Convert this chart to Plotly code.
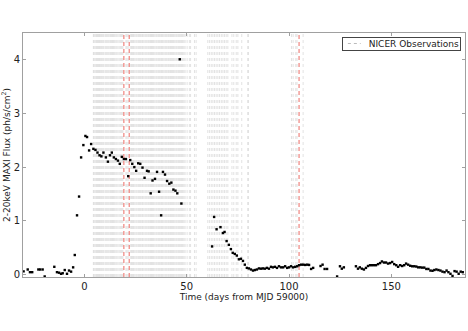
import plotly.graph_objects as go

# MAXI 2-20 keV light curve (days from MJD 59000, ph/s/cm^2)
maxi_day = [-29.7, -27.7, -26.6, -25.5, -22.5, -21.6, -20.4, -19.4, -14.7, -13.4,
            -12.4, -11.4, -10.6, -9.6, -8.5, -7.5, -6.5, -5.5, -4.7, -3.6,
            -2.6, -1.6, -0.5, 0.5, 1.3, 2.3, 3.3, 4.4, 5.4, 6.4,
            7.4, 8.3, 9.3, 10.5, 11.5, 12.5, 13.4, 14.4, 15.4, 16.4,
            17.3, 18.3, 19.3, 20.3, 21.4, 22.4, 23.4, 24.4, 25.3, 26.3,
            27.3, 28.4, 29.4, 30.6, 31.4, 32.4, 33.3, 34.5, 35.5, 36.5,
            37.5, 38.4, 39.4, 40.4, 41.5, 42.5, 43.5, 44.5, 45.4, 46.6,
            47.4,
            62.4, 63.4, 64.6, 66.5, 67.7, 68.5, 69.5, 70.6, 71.6, 72.5,
            73.5, 74.5, 75.5, 76.5, 77.5, 78.4, 79.4, 80.4, 81.4, 82.4,
            83.3, 84.3, 85.3, 86.3, 87.2, 88.2, 89.2, 90.2, 91.2, 92.1,
            93.1, 94.1, 95.1, 96.1, 97.1, 98.1, 99.1, 100.0, 101.0, 102.0,
            103.0, 104.0, 104.9, 105.9, 106.9, 107.9, 108.9, 109.8, 110.8, 111.8,
            115.4, 116.4, 117.4, 118.6, 123.5, 124.9, 125.8, 126.8,
            132.7, 133.7, 134.6, 135.6, 136.6, 137.6, 138.6, 139.6, 140.5, 141.5,
            142.5, 143.5, 144.5, 145.4, 146.4, 147.4, 148.4, 149.4, 150.4, 151.4,
            152.4, 153.3, 154.3, 155.3, 156.3, 157.2, 158.2, 159.2, 160.2, 161.2,
            162.2, 163.1, 164.1, 165.1, 166.1, 167.1, 168.1, 169.1, 170.1, 171.0,
            172.0, 173.0, 174.0, 175.0, 176.0, 177.0, 177.9, 178.9, 179.9, 180.9,
            181.9, 182.9, 183.9, 184.9]
maxi_flux = [0.055, 0.09, 0.04, 0.04, 0.09, 0.09, 0.09, -0.04, 0.14, 0.04,
             0.03, 0.01, 0.02, 0.08, 0.01, 0.07, 0.05, 0.13, 0.36, 1.10,
             1.45, 2.18, 2.41, 2.58, 2.56, 2.31, 2.43, 2.34, 2.32, 2.27,
             2.22, 2.20, 2.27, 2.18, 2.10, 2.22, 2.27, 2.18, 2.15, 2.12,
             2.06, 2.19, 2.15, 2.15, 1.83, 2.13, 2.06, 2.00, 1.93, 2.07,
             2.06, 1.99, 1.80, 1.93, 1.92, 1.51, 1.75, 1.78, 1.91, 1.54,
             1.10, 1.91, 1.86, 1.74, 1.69, 1.71, 1.58, 1.56, 1.51, 4.01,
             1.32,
             0.52, 1.07, 0.84, 0.88, 0.77, 0.79, 0.62, 0.55, 0.47, 0.40,
             0.38, 0.35, 0.28, 0.29, 0.25, 0.18, 0.12, 0.11, 0.09, 0.07,
             0.08, 0.09, 0.11, 0.105, 0.11, 0.105, 0.12, 0.105, 0.14, 0.13,
             0.14, 0.12, 0.15, 0.13, 0.13, 0.15, 0.12, 0.13, 0.15, 0.13,
             0.14, 0.15, 0.17, 0.18, 0.18, 0.175, 0.18, 0.175, 0.10, 0.12,
             0.155, 0.18, 0.10, 0.10, -0.04, 0.15, 0.105, 0.13,
             0.15, 0.105, 0.13, 0.105, 0.09, 0.12, 0.155, 0.17, 0.17, 0.17,
             0.17, 0.19, 0.21, 0.24, 0.22, 0.22, 0.20, 0.21, 0.23, 0.19,
             0.17, 0.14, 0.17, 0.155, 0.17, 0.20, 0.18, 0.16, 0.15, 0.15,
             0.145, 0.13, 0.13, 0.125, 0.125, 0.10, 0.10, 0.07, 0.065, 0.08,
             0.09, 0.08, 0.07, 0.05, 0.04, 0.07, 0.04, 0.01, -0.03, 0.06,
             0.05, 0.01, 0.05, 0.04]

# NICER observation epochs (gray dotted) and highlighted epochs (red dashed)
nicer_days = [4.4, 4.75, 5.3, 5.9, 6.4, 6.9, 7.4, 7.8, 8.3, 8.8, 9.4, 10.1, 10.6, 11.1,
              11.6, 12.1, 12.7, 13.2, 13.7, 14.2, 14.8, 15.4, 15.9, 16.5, 17.3, 17.8,
              18.3, 18.8, 20.3, 20.8, 21.4, 22.4, 23.0, 23.5, 24.0, 24.6, 25.2, 25.7,
              26.3, 26.8, 27.3, 27.8, 28.4, 29.0, 29.6, 30.1, 30.6, 31.2, 31.7, 32.3,
              32.8, 33.3, 33.8, 34.4, 35.0, 35.5, 36.1, 36.6, 37.1, 37.7, 38.2, 38.8,
              39.4, 39.9, 40.4, 41.0, 41.5, 42.1, 42.6, 43.1, 43.6, 44.2, 44.8, 45.3,
              45.9, 46.4, 46.9, 47.5, 48.0, 48.6, 49.2, 50.2, 51.3, 51.9, 53.8, 54.6,
              60.3, 61.1, 62.0, 62.8, 63.6, 64.4, 65.2, 66.0, 66.9, 67.7, 68.5, 69.3,
              70.1, 72.1, 73.0, 74.2, 75.0, 76.9, 79.9, 80.1,
              101.2, 102.0, 103.3, 103.9, 106.9]
red_days = [19.3, 21.9, 104.9]

y_lo, y_hi = -0.05, 4.5


def vlines(days):
    xs, ys = [], []
    for d in days:
        xs += [d, d, None]
        ys += [y_lo, y_hi, None]
    return xs, ys


fig = go.Figure()

nx, ny = vlines(nicer_days)
fig.add_trace(go.Scatter(x=nx, y=ny, mode='lines', name='NICER Observations',
                         showlegend=False,
                         line=dict(color='#cfcfcf', width=0.6, dash='dot')))

rx, ry = vlines(red_days)
fig.add_trace(go.Scatter(x=rx, y=ry, mode='lines', showlegend=False,
                         line=dict(color='#ec6a64', width=1, dash='4px,3px')))

fig.add_trace(go.Scatter(x=maxi_day, y=maxi_flux, mode='markers', showlegend=False,
                         marker=dict(color='black', size=2.4, symbol='square')))

# compact matplotlib-like legend box
fig.add_annotation(xref='paper', yref='paper', x=0.991, y=0.984,
                   xanchor='right', yanchor='top', showarrow=False,
                   text='NICER Observations', align='right', width=115,
                   font=dict(size=9, color='#222222'),
                   bgcolor='rgba(255,255,255,0)', bordercolor='#444444',
                   borderwidth=1, borderpad=1)
fig.add_shape(type='line', xref='paper', yref='paper', x0=0.735, x1=0.764,
              y0=0.957, y1=0.957, line=dict(color='#bbbbbb', width=1, dash='dot'))

axis_style = dict(showgrid=False, zeroline=False, showline=True, linecolor='#a0a0a0',
                  linewidth=1, mirror='ticks', ticks='inside', ticklen=3,
                  tickcolor='#a0a0a0', automargin=False,
                  tickfont=dict(size=10, color='#222222'))

fig.update_layout(
    width=468, height=331,
    margin=dict(l=23, r=3, t=33, b=54),
    paper_bgcolor='white', plot_bgcolor='white',
    font=dict(family='DejaVu Sans', size=9, color='#222222'),
    xaxis=dict(range=[-30, 186], tickvals=[0, 50, 100, 150],
               title=dict(text='Time (days from MJD 59000)', standoff=0,
                          font=dict(size=9)), **axis_style),
    yaxis=dict(range=[y_lo, y_hi], tickvals=[0, 1, 2, 3, 4],
               title=dict(text='2-20keV MAXI Flux (ph/s/cm<sup>2</sup>)', standoff=3,
                          font=dict(size=9)),
               **axis_style),
    showlegend=False,
)

fig.write_html("out.html", config={'displayModeBar': False},
               post_script="document.body.style.margin='0';")
